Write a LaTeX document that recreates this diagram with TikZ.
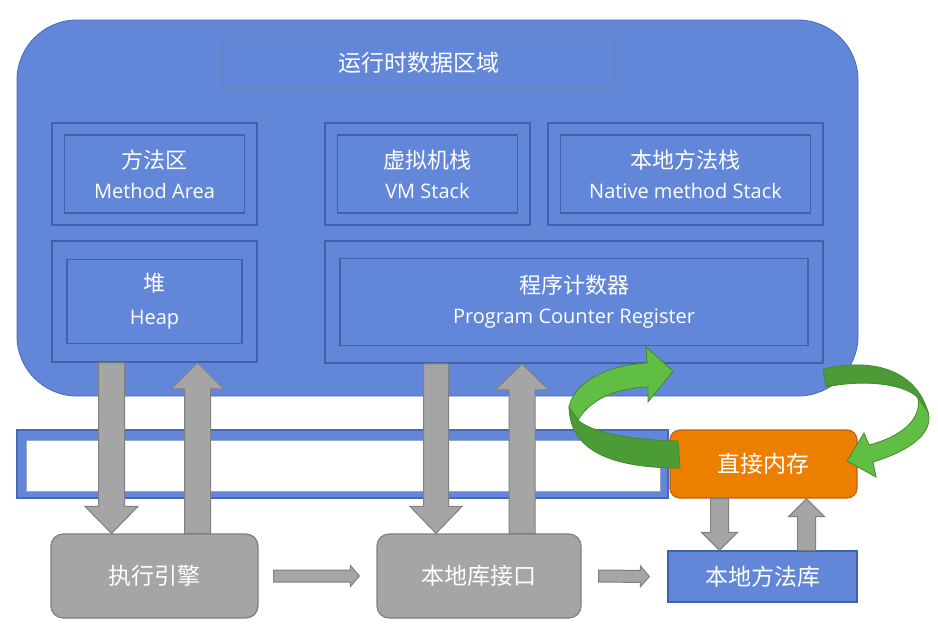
\documentclass[tikz,border=0pt]{standalone}
\usepackage{fontspec}
\setmainfont{Open Sans}
\newfontfamily\cjk{Noto Sans CJK SC}
\usetikzlibrary{calc}

\definecolor{rdablue}{RGB}{98,135,217}
\definecolor{rdaline}{RGB}{72,106,182}
\definecolor{boxline}{RGB}{66,98,168}
\definecolor{titleline}{RGB}{118,128,158}
\definecolor{bandinner}{RGB}{150,165,200}
\definecolor{grayfill}{RGB}{165,165,165}
\definecolor{grayline}{RGB}{128,128,128}
\definecolor{dmemfill}{RGB}{237,127,0}
\definecolor{dmemline}{RGB}{196,96,20}
\definecolor{glight}{RGB}{96,190,68}
\definecolor{gdark}{RGB}{75,155,54}
\definecolor{gline}{RGB}{68,138,44}

\newcommand{\zh}[1]{{\cjk\fontsize{22}{26}\selectfont #1}}
\newcommand{\zhbig}[1]{{\cjk\fontsize{23}{27}\selectfont #1}}
% block arrow: start, end, half shaft, half head, head length
\newcommand{\fatarrow}[5]{%
  \coordinate (fh) at ($(#2)!#5!(#1)$);
  \draw[fat] ($(#1)!#3!90:(#2)$) -- ($(fh)!#3!-90:(#1)$) -- ($(fh)!#4!-90:(#1)$)
    -- (#2) -- ($(fh)!#4!90:(#1)$) -- ($(fh)!#3!90:(#1)$) -- ($(#1)!#3!-90:(#2)$) -- cycle;}

\begin{document}
\begin{tikzpicture}[x=1pt, y=-1pt,
    area/.style={rectangle, draw=rdaline, fill=rdablue, line width=0.8pt},
    title/.style={rectangle, draw=titleline, fill=rdablue, rounded corners=3pt, line width=1pt,
                  minimum width=392pt, minimum height=51pt, text=white},
    frame/.style={rectangle, draw=boxline, line width=1.5pt},
    cell/.style={rectangle, draw=boxline, line width=1.5pt, text=white, align=center,
                 font=\fontsize{20}{30}\selectfont},
    engine/.style={rectangle, draw=grayline, fill=grayfill, rounded corners=12pt,
                   line width=1.2pt, minimum width=207pt, minimum height=84pt, text=white},
    fat/.style={draw=grayline, fill=grayfill, line width=1pt, line join=miter},
    twist/.style={draw=gline, line width=0.8pt}
]
\useasboundingbox (0,0) rectangle (938,633);

% Runtime data area
\node[area, rounded corners=60pt, minimum width=841pt, minimum height=376pt] (rda) at (437.5,208) {};
\node[title] (rdatitle) at (419,62.5) {\zhbig{运行时数据区域}};

% Areas
\node[frame, minimum width=205pt, minimum height=102pt] (methodo) at (154.5,174) {};
\node[cell, minimum width=180pt, minimum height=78pt] (method) at (methodo) {\zh{方法区}\\Method Area};
\node[frame, minimum width=205pt, minimum height=102pt] (vmo) at (427.5,174) {};
\node[cell, minimum width=180pt, minimum height=78pt] (vm) at (vmo) {\zh{虚拟机栈}\\VM Stack};
\node[frame, minimum width=275pt, minimum height=102pt] (nativeo) at (685.5,174) {};
\node[cell, minimum width=250pt, minimum height=78pt] (native) at (nativeo) {\zh{本地方法栈}\\Native method Stack};
\node[frame, minimum width=205pt, minimum height=121pt] (heapo) at (154.5,301.5) {};
\node[cell, minimum width=175pt, minimum height=84pt, font=\fontsize{20}{33}\selectfont] (heap) at (heapo) {\zh{堆}\\Heap};
\node[frame, minimum width=498pt, minimum height=122pt] (pcro) at (574,302) {};
\node[cell, minimum width=468pt, minimum height=87pt] (pcr) at (pcro) {\zh{程序计数器}\\Program Counter Register};

% Band
\node[area, line width=1.2pt, minimum width=651pt, minimum height=68pt] (band) at (342.5,464) {};
\node[rectangle, fill=white, draw=bandinner, line width=1pt, minimum width=634pt, minimum height=51pt] (bandin) at (343,465.5) {};

% Bottom row
\node[engine] (engine) at (154.5,576) {\zhbig{执行引擎}};
\node[engine, minimum width=204pt] (nli) at (479,576) {\zhbig{本地库接口}};
\node[rectangle, draw=boxline, fill=rdablue, line width=1.2pt, minimum width=189pt,
      minimum height=51pt, text=white] (nml) at (762.5,576.5) {\zhbig{本地方法库}};
\node[rectangle, draw=dmemline, fill=dmemfill, rounded corners=10pt, line width=1.2pt,
      minimum width=187pt, minimum height=68pt, text=white] (dmem) at (763.5,464) {\zhbig{直接内存}};

% Gray arrows
\coordinate (dn1) at ([xshift=-43pt]engine.north);
\coordinate (up1) at ([xshift=43pt]engine.north);
\coordinate (dn2) at ([xshift=-43pt]nli.north);
\coordinate (up2) at ([xshift=43pt]nli.north);
\coordinate (dn3) at ([xshift=-44pt]dmem.south);
\coordinate (up3) at ([xshift=43pt]dmem.south);
\fatarrow{heapo.south -| dn1}{dn1}{13pt}{26.5pt}{27pt}
\fatarrow{up1}{heapo.south -| up1}{13pt}{26pt}{26pt}
\fatarrow{pcro.south -| dn2}{dn2}{12.5pt}{26pt}{27pt}
\fatarrow{up2}{pcro.south -| up2}{13pt}{26.5pt}{26pt}
\fatarrow{dn3}{dn3 |- nml.north}{9pt}{18pt}{18pt}
\fatarrow{up3 |- nml.north}{up3}{9pt}{18pt}{18pt}
\fatarrow{[xshift=15pt]engine.east}{[xshift=-17pt]nli.west}{6pt}{10.5pt}{9pt}
\fatarrow{[xshift=17pt]nli.east}{[xshift=-18pt]nml.west}{6pt}{10.5pt}{9pt}

% Green arrows
\fill[gdark, twist] (578,420) .. controls (590,432) and (630,440) .. (678,441)
  -- (680,468) .. controls (620,468) and (570,455) .. (569,407) -- cycle;
\fill[glight, twist] (569,407) .. controls (575,380) and (610,365) .. (647,363)
  -- (646,347) -- (673,371) -- (648,402) -- (648,387)
  .. controls (615,388) and (590,400) .. (578,420) -- cycle;
\fill[gdark, twist] (823,369) .. controls (870,358) and (915,368) .. (928,412)
  -- (918,398) .. controls (908,386) and (870,378) .. (826,387) -- cycle;
\fill[glight, twist] (918,398) .. controls (922,420) and (900,437) .. (869,445)
  -- (864,433) -- (847,461) -- (876,477) -- (873,462)
  .. controls (912,450) and (934,432) .. (928,412) -- cycle;

\end{tikzpicture}
\end{document}
